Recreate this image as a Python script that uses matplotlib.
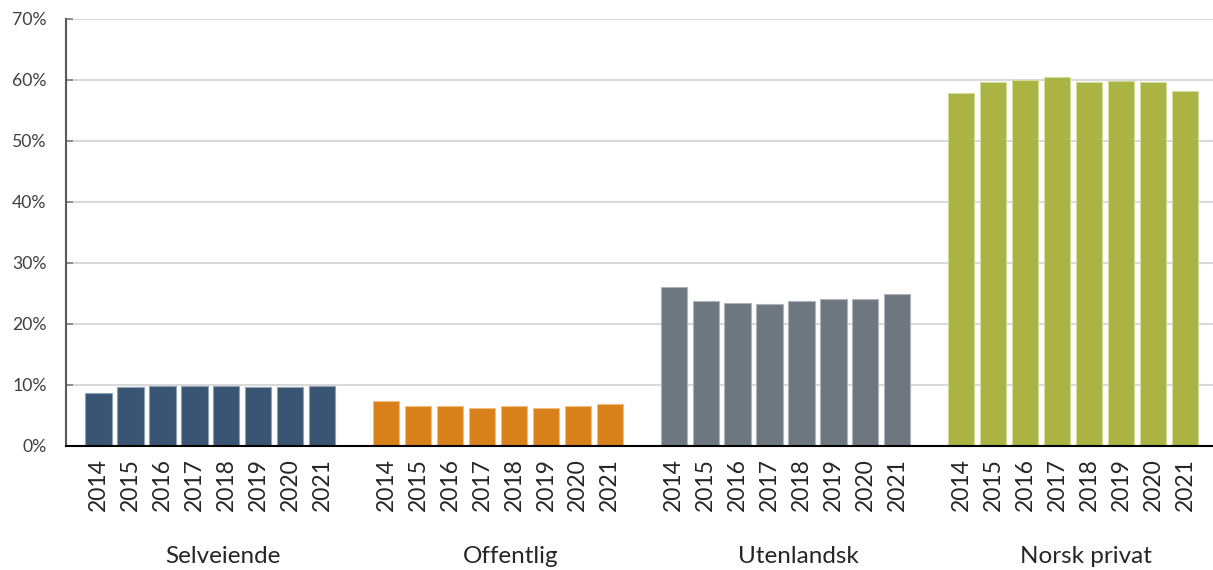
import matplotlib
matplotlib.use("Agg")
import matplotlib.pyplot as plt
import numpy as np

groups = ["Selveiende", "Offentlig", "Utenlandsk", "Norsk privat"]
years = ["2014", "2015", "2016", "2017", "2018", "2019", "2020", "2021"]
selveiende = [8.7, 9.6, 9.8, 9.8, 9.8, 9.6, 9.6, 9.8]
offentlig = [7.3, 6.6, 6.6, 6.3, 6.6, 6.3, 6.6, 6.9]
utenlandsk = [26.0, 23.8, 23.4, 23.2, 23.8, 24.0, 24.0, 24.9]
norsk_privat = [57.8, 59.6, 60.0, 60.4, 59.6, 59.8, 59.6, 58.1]
series = [selveiende, offentlig, utenlandsk, norsk_privat]
colors = ["#3A5573", "#D8801A", "#6E7780", "#A9B443"]
edges = ["#8FA0B3", "#F0BE85", "#AEB4BA", "#D3DA9E"]
yticks = [0, 10, 20, 30, 40, 50, 60, 70]

plt.rcParams['font.family'] = ['Lato', 'DejaVu Sans']

fig = plt.figure(figsize=(12.13, 5.70), dpi=100)
ax = fig.add_axes([66/1213, 1-446/570, 1-66/1213, (446-18.7)/570])

slot = 9
positions = []
labels = []
for g, vals in enumerate(series):
    x = np.arange(len(years)) + g*slot
    ax.bar(x, vals, width=0.82, color=colors[g], edgecolor=edges[g], linewidth=0.8, zorder=3)
    positions.extend(x)
    labels.extend(years)
    ax.text(g*slot + 3.9, -0.273, groups[g], transform=ax.get_xaxis_transform(),
            ha='center', va='baseline', fontsize=17.5, color='#262626')

ax.set_xticks(positions)
ax.set_xticklabels(labels, rotation=90, fontsize=16.5, color='#262626')
ax.tick_params(axis='x', length=0, pad=8.5)
ax.set_xlim(-1.02, 34.88)
ax.set_ylim(0, 70)
ax.set_yticks(yticks)
ax.set_yticklabels([f"{v}%" for v in yticks], fontsize=12.7, color='#404040')
ax.tick_params(axis='y', direction='in', length=5, width=1.2, color='#7F7F7F', pad=14)
ax.grid(axis='y', color='#D9D9D9', linewidth=1.5, zorder=0)
ax.set_axisbelow(True)
for s in ['top', 'right']:
    ax.spines[s].set_visible(False)
ax.spines['left'].set_color('#595959')
ax.spines['left'].set_linewidth(1.5)
ax.spines['bottom'].set_color('#000000')
ax.spines['bottom'].set_linewidth(1.5)
ax.spines['bottom'].set_zorder(4)

fig.savefig("out.png", dpi=100)
